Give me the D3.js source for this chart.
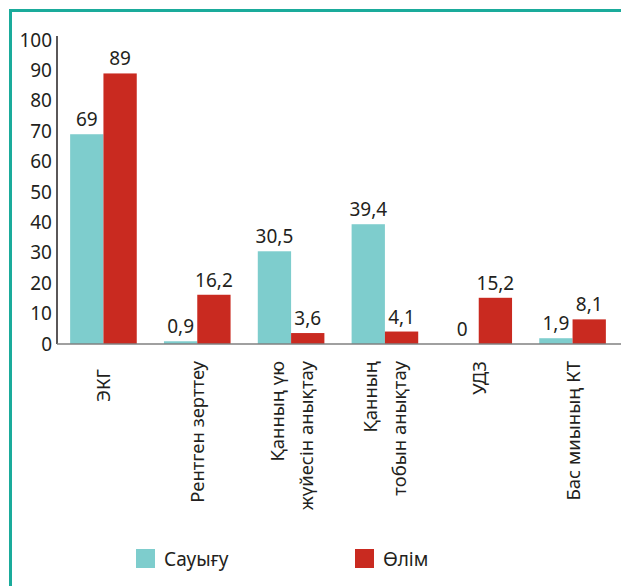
<!DOCTYPE html>
<html>
<head>
<meta charset="utf-8">
<script src="https://cdn.jsdelivr.net/npm/d3@7"></script>
<style>
  html, body { margin: 0; padding: 0; background: #fff; }
  svg { display: block; }
  text { font-family: "Noto Sans", "Open Sans", sans-serif; fill: #231f20; }
</style>
</head>
<body>
<svg id="chart" width="621" height="586"></svg>
<script>
// Diagnostic methods (each label may span several lines)
const categories = [
  ["ЭКГ"],
  ["Рентген зерттеу"],
  ["Қанның үю", "жүйесін анықтау"],
  ["Қанның", "тобын анықтау"],
  ["УДЗ"],
  ["Бас миының КТ"]
];
const seriesNames = ["Сауығу", "Өлім"];
const recovered = [69, 0.9, 30.5, 39.4, 0, 1.9];
const died = [89, 16.2, 3.6, 4.1, 15.2, 8.1];
const yTicks = [0, 10, 20, 30, 40, 50, 60, 70, 80, 90, 100];
const colors = ["#7ecdcd", "#c92a20"];

const svg = d3.select("#chart");
const fmt = v => String(v).replace(".", ",");

// Frame lines along left and top edges
svg.append("path")
  .attr("d", "M10.5,586 V10.5 H621")
  .attr("fill", "none")
  .attr("stroke", "#1aab9b")
  .attr("stroke-width", 3);

const x0 = 57, x1 = 621;
const y = d3.scaleLinear().domain([0, 100]).range([344, 40]);
const x = d3.scaleBand()
  .domain(d3.range(categories.length))
  .range([x0, x1 - 2])
  .paddingInner(0.29)
  .paddingOuter(0.14);
const xs = d3.scaleBand().domain([0, 1]).range([0, x.bandwidth()]);

const rows = categories.map((c, i) => ({ i, vals: [recovered[i], died[i]] }));

// Bars with value labels
const g = svg.append("g");
rows.forEach(r => {
  r.vals.forEach((v, s) => {
    g.append("rect")
      .attr("x", x(r.i) + xs(s))
      .attr("y", y(v))
      .attr("width", xs.bandwidth())
      .attr("height", y(0) - y(v))
      .attr("fill", colors[s]);
    g.append("text")
      .attr("x", x(r.i) + xs(s) + xs.bandwidth() / 2)
      .attr("y", y(v) - 8)
      .attr("text-anchor", "middle")
      .attr("font-size", 19)
      .text(fmt(v));
  });
});

// Y axis
const yAxis = svg.append("g")
  .attr("transform", `translate(${x0},0)`)
  .call(d3.axisLeft(y).tickValues(yTicks).tickSize(0).tickPadding(5));
yAxis.select(".domain").remove();
yAxis.selectAll("text")
  .attr("font-size", 19)
  .attr("font-family", "Noto Sans, sans-serif")
  .attr("fill", "#231f20");
svg.append("line")
  .attr("x1", x0).attr("x2", x0)
  .attr("y1", 36).attr("y2", y(0))
  .attr("stroke", "#231f20").attr("stroke-width", 1.5);

// Baseline
svg.append("line")
  .attr("x1", x0).attr("x2", x1)
  .attr("y1", y(0)).attr("y2", y(0))
  .attr("stroke", "#808080").attr("stroke-width", 1.5);

// Rotated category labels
const lineGap = 29;
categories.forEach((lines, i) => {
  const cx = x(i) + x.bandwidth() / 2;
  const n = lines.length;
  const top = i === 0 ? 369 : 361;
  lines.forEach((t, k) => {
    const lx = cx + (k - (n - 1) / 2) * lineGap;
    svg.append("text")
      .attr("transform", `translate(${lx + 7},${top}) rotate(-90)`)
      .attr("text-anchor", "end")
      .attr("font-size", 18.5)
      .text(t);
  });
});

// Legend
const legend = svg.append("g");
const legendX = [136, 355];
seriesNames.forEach((name, s) => {
  legend.append("rect")
    .attr("x", legendX[s]).attr("y", 549)
    .attr("width", 19).attr("height", 19)
    .attr("fill", colors[s]);
  legend.append("text")
    .attr("x", legendX[s] + 28).attr("y", 566)
    .attr("font-size", 19)
    .text(name);
});
</script>
</body>
</html>
